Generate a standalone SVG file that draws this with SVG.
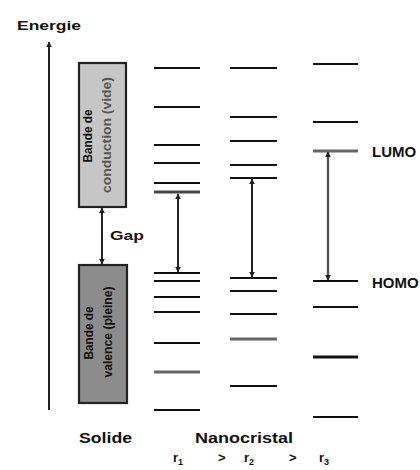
<svg xmlns="http://www.w3.org/2000/svg" width="420" height="470" viewBox="0 0 420 470">
<style>
.lvl{stroke:#111;stroke-width:2.2;fill:none}
.lvlg{stroke:#666;stroke-width:3;fill:none}
.lbl{font-family:"Liberation Sans",Arial,sans-serif;font-weight:bold;fill:#111}
.band{stroke:#222;stroke-width:2.2}
.arr{stroke:#222;stroke-width:2;fill:none;marker-start:url(#ah);marker-end:url(#ah)}
</style>
<defs>
<marker id="ah" viewBox="0 0 10 10" refX="9" refY="5" markerUnits="userSpaceOnUse" markerWidth="6" markerHeight="6" orient="auto-start-reverse">
<path d="M0,0 L10,5 L0,10 z" fill="#222"/>
</marker>
</defs>
<rect width="420" height="470" fill="#fff"/>

<g id="energy-axis">
<text class="lbl" x="17" y="30" font-size="13" textLength="64" lengthAdjust="spacingAndGlyphs">Energie</text>
</g>

<g id="conduction-band">
<rect class="band" x="79" y="63" width="47" height="144" fill="#c6c6c6"/>
<text class="lbl" font-size="12" text-anchor="middle" transform="translate(92,136) rotate(-90)" textLength="53" lengthAdjust="spacingAndGlyphs">Bande de</text>
<text class="lbl" font-size="12" text-anchor="middle" transform="translate(111,135) rotate(-90)" textLength="116" lengthAdjust="spacingAndGlyphs" fill="#555" style="fill:#555">conduction (vide)</text>
</g>

<g id="valence-band">
<rect class="band" x="79" y="265" width="48" height="138" fill="#8c8c8c"/>
<text class="lbl" font-size="12" text-anchor="middle" transform="translate(93,333) rotate(-90)" textLength="53" lengthAdjust="spacingAndGlyphs">Bande de</text>
<text class="lbl" font-size="12" text-anchor="middle" transform="translate(112,332) rotate(-90)" textLength="91" lengthAdjust="spacingAndGlyphs">valence (pleine)</text>
</g>

<g id="nanocrystal-r1">
<line class="lvl" x1="154" y1="68" x2="200" y2="68"/>
<line class="lvl" x1="154" y1="107" x2="200" y2="107"/>
<line class="lvl" x1="154" y1="145" x2="200" y2="145"/>
<line class="lvl" x1="154" y1="163" x2="200" y2="163"/>
<line class="lvl" x1="154" y1="183" x2="200" y2="183"/>
<line class="lvl" x1="154" y1="192" x2="200" y2="192" style="stroke-width:3;stroke:#444"/>
<line class="lvl" x1="154" y1="273" x2="200" y2="273"/>
<line class="lvl" x1="154" y1="281" x2="200" y2="281"/>
<line class="lvl" x1="154" y1="297" x2="200" y2="297"/>
<line class="lvl" x1="154" y1="312" x2="200" y2="312"/>
<line class="lvl" x1="154" y1="343" x2="200" y2="343"/>
<line class="lvlg" x1="154" y1="372" x2="200" y2="372"/>
<line class="lvl" x1="154" y1="410" x2="200" y2="410"/>
</g>

<g id="nanocrystal-r2">
<line class="lvl" x1="230" y1="68" x2="277" y2="68"/>
<line class="lvl" x1="230" y1="117" x2="277" y2="117"/>
<line class="lvl" x1="230" y1="141" x2="277" y2="141"/>
<line class="lvl" x1="230" y1="165" x2="277" y2="165"/>
<line class="lvl" x1="230" y1="178" x2="277" y2="178"/>
<line class="lvl" x1="230" y1="278" x2="277" y2="278"/>
<line class="lvl" x1="230" y1="291" x2="277" y2="291"/>
<line class="lvl" x1="230" y1="314" x2="277" y2="314"/>
<line class="lvlg" x1="230" y1="339" x2="277" y2="339"/>
<line class="lvl" x1="230" y1="386" x2="277" y2="386"/>
</g>

<g id="nanocrystal-r3">
<line class="lvl" x1="313" y1="64" x2="358" y2="64"/>
<line class="lvl" x1="313" y1="122" x2="358" y2="122"/>
<line class="lvlg" x1="313" y1="151" x2="358" y2="151"/>
<line class="lvl" x1="313" y1="281" x2="358" y2="281"/>
<line class="lvl" x1="313" y1="307" x2="358" y2="307"/>
<line class="lvl" x1="313" y1="357" x2="358" y2="357" style="stroke-width:3.2"/>
<line class="lvl" x1="313" y1="417" x2="358" y2="417"/>
</g>

<g id="connectors">
<line x1="49" y1="410" x2="49" y2="42" stroke="#222" stroke-width="2" marker-end="url(#ah)"/>
<line class="arr" x1="102" y1="208" x2="102" y2="264"/>
<line class="arr" x1="178" y1="194" x2="178" y2="272"/>
<line class="arr" x1="252" y1="179" x2="252" y2="277"/>
<line class="arr" x1="328" y1="152" x2="328" y2="280" style="stroke:#555;stroke-width:2.4"/>
</g>

<g id="labels">
<text class="lbl" x="110" y="240" font-size="13" textLength="34" lengthAdjust="spacingAndGlyphs">Gap</text>
<text class="lbl" x="372" y="157" font-size="15">LUMO</text>
<text class="lbl" x="372" y="288" font-size="15">HOMO</text>
<text class="lbl" x="79" y="443" font-size="14" textLength="53" lengthAdjust="spacingAndGlyphs">Solide</text>
<text class="lbl" x="195" y="443" font-size="14" textLength="98" lengthAdjust="spacingAndGlyphs">Nanocristal</text>
<text class="lbl" x="173" y="462" font-size="13">r<tspan font-size="9" dy="3">1</tspan></text>
<text class="lbl" x="218" y="462" font-size="13">&gt;</text>
<text class="lbl" x="244" y="462" font-size="13">r<tspan font-size="9" dy="3">2</tspan></text>
<text class="lbl" x="289" y="462" font-size="13">&gt;</text>
<text class="lbl" x="319" y="462" font-size="13">r<tspan font-size="9" dy="3">3</tspan></text>
</g>
</svg>
